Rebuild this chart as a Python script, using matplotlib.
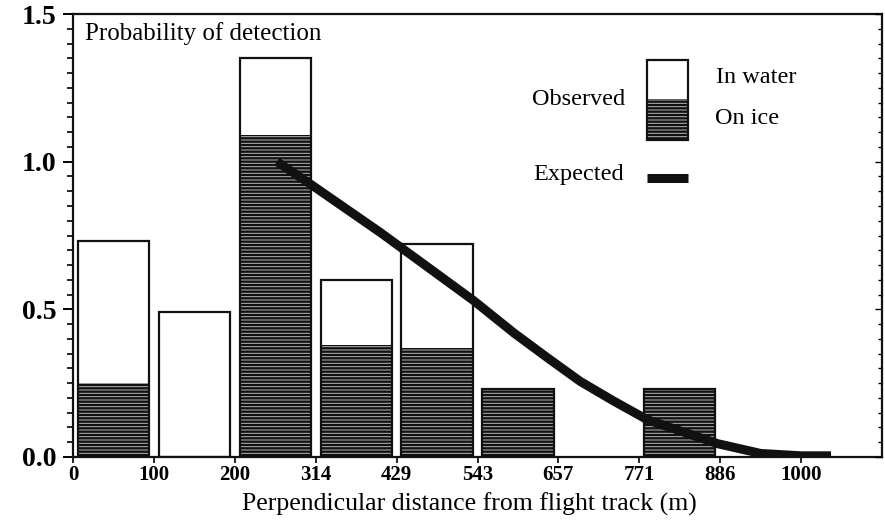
import matplotlib
matplotlib.use("Agg")
import matplotlib.pyplot as plt
import numpy as np
from matplotlib.patches import Rectangle
from matplotlib.ticker import MultipleLocator

plt.rcParams['font.family'] = ['Liberation Serif', 'DejaVu Serif']
plt.rcParams['hatch.linewidth'] = 1.7

# ---- data ----
tick_labels = ['0', '100', '200', '314', '429', '543', '657', '771', '886', '1000']
observed_total = [0.73, 0.49, 1.35, 0.60, 0.72, 0.23, 0.0, 0.23, 0.0]   # in water + on ice
observed_ice = [0.25, 0.0, 1.09, 0.38, 0.37, 0.23, 0.0, 0.23, 0.0]
expected_x = [2.52, 2.93, 3.80, 4.95, 5.45, 5.87, 6.27, 6.68, 7.10, 7.97, 8.50, 9.00, 9.37]
expected_y = [1.00, 0.925, 0.76, 0.53, 0.42, 0.335, 0.256, 0.19, 0.126, 0.045, 0.012, 0.004, 0.004]

fig = plt.figure(figsize=(8.85, 5.22), dpi=100)
ax = fig.add_axes([73/885, 1 - 457/522, 809/885, 443/522])

idx = np.arange(len(observed_total))
centers = idx + 0.5
width = 0.88

for c, tot, ice in zip(centers, observed_total, observed_ice):
    if tot <= 0:
        continue
    if ice > 0:
        ax.bar(c, ice, width=width, facecolor='#b8b8b8', edgecolor='#111111',
               linewidth=0, hatch='-----', zorder=2)
    ax.bar(c, tot, width=width, facecolor='none', edgecolor='#111111',
           linewidth=1.6, zorder=3)

ax.plot(expected_x, expected_y, color='#111111', linewidth=6.5,
        solid_capstyle='butt', solid_joinstyle='round', zorder=4)

ax.set_xlim(0, 10)
ax.set_ylim(0, 1.5)
ax.set_xticks(np.arange(len(tick_labels)))
ax.set_xticklabels(tick_labels, fontsize=15, fontweight='bold')
ax.set_yticks([0, 0.5, 1.0, 1.5])
ax.set_yticklabels(['0.0', '0.5', '1.0', '1.5'], fontsize=20, fontweight='bold')
ax.yaxis.set_minor_locator(MultipleLocator(0.05))
ax.tick_params(axis='y', which='major', direction='out', length=7, width=1.4, pad=5)
ax.tick_params(axis='y', which='minor', direction='out', length=4, width=1.2)
ax.tick_params(axis='x', which='major', direction='out', length=4, width=1.2, pad=2)
for s in ax.spines.values():
    s.set_linewidth(1.6)
    s.set_color('#111111')

ax2 = ax.twinx()
ax2.set_ylim(0, 1.5)
ax2.yaxis.set_major_locator(MultipleLocator(0.5))
ax2.yaxis.set_minor_locator(MultipleLocator(0.05))
ax2.tick_params(axis='y', which='both', direction='in', labelright=False, length=3, width=1.0)
ax2.tick_params(axis='y', which='major', length=5)
for s in ax2.spines.values():
    s.set_visible(False)

ax.set_xlabel('Perpendicular distance from flight track (m)', fontsize=18.5)
ax.xaxis.set_label_coords((469 - 73) / 809, -0.08)

ax.text(0.0148, 0.957, 'Probability of detection', transform=ax.transAxes,
        fontsize=18, ha='left', va='center')

# manual legend
lx0, lx1 = 0.7095, 0.760
ax.add_patch(Rectangle((lx0, 0.7156), lx1 - lx0, 0.808 - 0.7156, transform=ax.transAxes,
                       facecolor='#b8b8b8', edgecolor='#111111', linewidth=0,
                       hatch='-----', zorder=5))
ax.add_patch(Rectangle((lx0, 0.7156), lx1 - lx0, 0.896 - 0.7156, transform=ax.transAxes,
                       facecolor='none', edgecolor='#111111', linewidth=1.6, zorder=6))
ax.plot([lx0, lx1], [0.630, 0.630], transform=ax.transAxes, color='#111111',
        linewidth=6.5, solid_capstyle='butt', zorder=6)
ax.text(0.567, 0.808, 'Observed', transform=ax.transAxes, fontsize=17.5, ha='left', va='center')
ax.text(0.569, 0.637, 'Expected', transform=ax.transAxes, fontsize=17.5, ha='left', va='center')
ax.text(0.795, 0.856, 'In water', transform=ax.transAxes, fontsize=17.5, ha='left', va='center')
ax.text(0.794, 0.765, 'On ice', transform=ax.transAxes, fontsize=17.5, ha='left', va='center')

fig.savefig('out.png', dpi=100)
